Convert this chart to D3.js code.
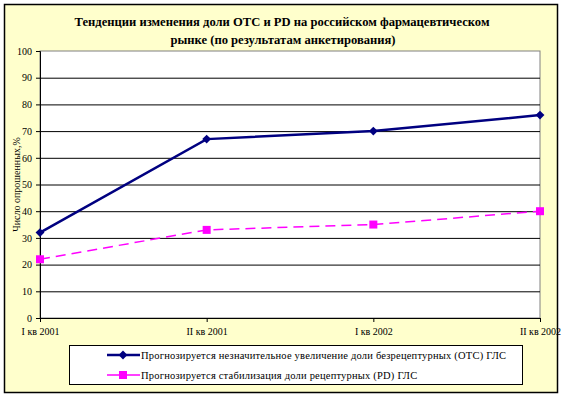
<!DOCTYPE html>
<html>
<head>
<meta charset="utf-8">
<script src="https://cdn.jsdelivr.net/npm/d3@7"></script>
<style>
  body { margin: 0; background: #fff; }
  text { font-family: "Liberation Serif", "Times New Roman", serif; }
</style>
</head>
<body>
<div id="chart"></div>
<script>
const quarters = ["I кв 2001", "II кв 2001", "I кв 2002", "II кв 2002"];
const otcValues = [32, 67, 70, 76];
const pdValues = [22, 33, 35, 40];
const yTicks = [0, 10, 20, 30, 40, 50, 60, 70, 80, 90, 100];
const seriesNames = [
    "Прогнозируется незначительное увеличение доли безрецептурных  (ОТС) ГЛС",
    "Прогнозируется стабилизация доли рецептурных  (PD) ГЛС"
];

const width = 564;
const height = 396;
const margin = { top: 51, right: 24, bottom: 78, left: 40 };

const svg = d3.select("#chart")
    .append("svg")
    .attr("width", width)
    .attr("height", height);

// outer frame
svg.append("rect")
    .attr("x", 4.5).attr("y", 4.5)
    .attr("width", 553).attr("height", 388)
    .attr("fill", "#FFFFCC")
    .attr("stroke", "#000")
    .attr("stroke-width", 1.5);

const x = d3.scalePoint().domain(quarters).range([margin.left, width - margin.right]);
const y = d3.scaleLinear().domain([0, 100]).range([height - margin.bottom, margin.top]);

// plot area
svg.append("rect")
    .attr("x", margin.left).attr("y", margin.top)
    .attr("width", width - margin.right - margin.left)
    .attr("height", y(0) - margin.top)
    .attr("fill", "#fff")
    .attr("stroke", "#808080");

// gridlines
svg.append("g")
    .selectAll("line")
    .data(yTicks.filter(d => d > 0 && d < 100))
    .enter()
    .append("line")
    .attr("x1", margin.left).attr("x2", width - margin.right)
    .attr("y1", d => y(d) + 0.5).attr("y2", d => y(d) + 0.5)
    .attr("stroke", "#000");

// title
svg.append("text")
    .attr("x", 282).attr("y", 26)
    .attr("text-anchor", "middle")
    .style("font-size", "12.6px").style("font-weight", "bold")
    .text("Тенденции изменения доли ОТС и PD  на российском фармацевтическом");
svg.append("text")
    .attr("x", 283).attr("y", 44)
    .attr("text-anchor", "middle")
    .style("font-size", "12.6px").style("font-weight", "bold")
    .text("рынке (по результатам анкетирования)");

// axes
const yAxisGroup = svg.append("g")
    .attr("transform", `translate(${margin.left},0)`)
    .call(d3.axisLeft(y).tickValues(yTicks).tickSize(4).tickPadding(4));
const xAxisGroup = svg.append("g")
    .attr("transform", `translate(0,${y(0)})`)
    .call(d3.axisBottom(x).tickSize(4).tickPadding(6));

[yAxisGroup, xAxisGroup].forEach(g => {
    g.attr("font-family", null);
    g.select(".domain").attr("stroke", "#000");
    g.selectAll("line").attr("stroke", "#000");
    g.selectAll("text")
        .style("font-size", "10px")
        .attr("fill", "#000");
});

svg.append("text")
    .attr("transform", "rotate(-90)")
    .attr("x", -(margin.top + y(0)) / 2)
    .attr("y", 20)
    .attr("text-anchor", "middle")
    .style("font-size", "10px")
    .text("Число опрошенных,%");

// lines
const line = d3.line().x((d, i) => x(quarters[i])).y(d => y(d));

svg.append("path")
    .datum(otcValues)
    .attr("fill", "none")
    .attr("stroke", "#000080")
    .attr("stroke-width", 2.5)
    .attr("d", line);

svg.append("path")
    .datum(pdValues)
    .attr("fill", "none")
    .attr("stroke", "#FF00FF")
    .attr("stroke-width", 1.5)
    .attr("stroke-dasharray", "10,6")
    .attr("d", line);

const diamond = d3.symbol().type(d3.symbolDiamond2).size(50);

svg.selectAll(".otc-pt")
    .data(otcValues)
    .enter()
    .append("path")
    .attr("class", "otc-pt")
    .attr("d", diamond)
    .attr("transform", (d, i) => `translate(${x(quarters[i])},${y(d)})`)
    .attr("fill", "#000080");

svg.selectAll(".pd-pt")
    .data(pdValues)
    .enter()
    .append("rect")
    .attr("class", "pd-pt")
    .attr("x", (d, i) => x(quarters[i]) - 4)
    .attr("y", d => y(d) - 4)
    .attr("width", 8).attr("height", 8)
    .attr("fill", "#FF00FF");

// legend
const legend = svg.append("g");
legend.append("rect")
    .attr("x", 69.5).attr("y", 345.5)
    .attr("width", 453).attr("height", 39)
    .attr("fill", "#fff")
    .attr("stroke", "#000");

const rows = legend.selectAll(".row")
    .data(seriesNames)
    .enter()
    .append("g")
    .attr("transform", (d, i) => `translate(0,${355 + i * 20})`);

rows.append("line")
    .attr("x1", 107).attr("x2", 140)
    .attr("stroke", (d, i) => i === 0 ? "#000080" : "#FF00FF")
    .attr("stroke-width", (d, i) => i === 0 ? 2.5 : 1.5);

rows.filter((d, i) => i === 0).append("path")
    .attr("d", diamond)
    .attr("transform", "translate(123,0)")
    .attr("fill", "#000080");
rows.filter((d, i) => i === 1).append("rect")
    .attr("x", 119).attr("y", -4)
    .attr("width", 8).attr("height", 8)
    .attr("fill", "#FF00FF");

rows.append("text")
    .attr("x", 141).attr("y", 4)
    .style("font-size", "10.5px")
    .style("letter-spacing", "0.2px")
    .text(d => d);
</script>
</body>
</html>
